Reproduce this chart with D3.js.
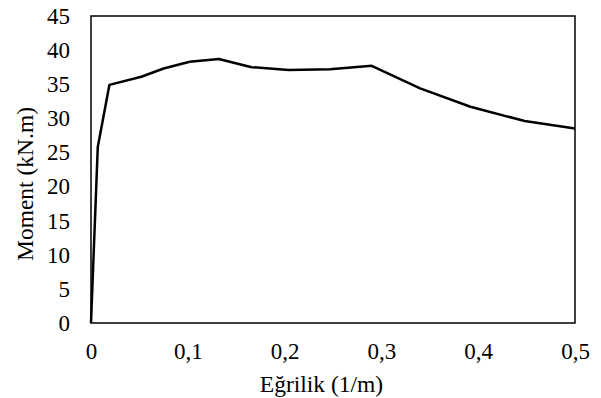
<!DOCTYPE html>
<html>
<head>
<meta charset="utf-8">
<script src="https://cdn.jsdelivr.net/npm/d3@7"></script>
<style>
  body { margin: 0; background: #fff; }
  text { font-family: "Liberation Serif", "Times New Roman", serif; fill: #000; }
</style>
</head>
<body>
<div id="chart"></div>
<script>
// curvature (1/m) and moment (kN.m)
var curvature = [0, 0.007, 0.019, 0.052, 0.075, 0.102, 0.132, 0.166, 0.204, 0.247, 0.29, 0.34, 0.392, 0.448, 0.5];
var moment = [0, 25.8, 34.9, 36.1, 37.3, 38.3, 38.7, 37.5, 37.1, 37.2, 37.7, 34.4, 31.7, 29.6, 28.5];
var xTicks = [0, 0.1, 0.2, 0.3, 0.4, 0.5];
var yTicks = [0, 5, 10, 15, 20, 25, 30, 35, 40, 45];

var w = 601, h = 398;
var mLeft = 91, mRight = 575, mTop = 16, mBottom = 323;

var svg = d3.select('#chart').append('svg')
  .attr('width', w)
  .attr('height', h);

var x = d3.scaleLinear().domain([0, 0.5]).range([mLeft, mRight]);
var y = d3.scaleLinear().domain([0, 45]).range([mBottom, mTop]);

var fmt = function(d) { return d === 0 ? '0' : d3.format('.1f')(d).replace('.', ','); };

// frame
svg.append('rect')
  .attr('x', mLeft).attr('y', mTop)
  .attr('width', mRight - mLeft).attr('height', mBottom - mTop)
  .attr('fill', 'none').attr('stroke', '#000').attr('stroke-width', 1.5);

// y axis labels
var yAxis = svg.append('g')
  .attr('transform', 'translate(' + mLeft + ',0)')
  .call(d3.axisLeft(y).tickValues(yTicks).tickSize(0).tickPadding(21));
yAxis.select('.domain').remove();
yAxis.selectAll('text')
  .style('font-size', '23px');

// x axis labels
var xAxis = svg.append('g')
  .attr('transform', 'translate(0,' + mBottom + ')')
  .call(d3.axisBottom(x).tickValues(xTicks).tickFormat(fmt).tickSize(0).tickPadding(20));
xAxis.select('.domain').remove();
xAxis.selectAll('text')
  .style('font-size', '23px');

// line
var line = d3.line()
  .x(function(d, i) { return x(curvature[i]); })
  .y(function(d) { return y(d); });

svg.append('path')
  .datum(moment)
  .attr('d', line)
  .attr('fill', 'none')
  .attr('stroke', '#000')
  .attr('stroke-width', 2.5)
  .attr('stroke-linejoin', 'round');

// axis titles
svg.append('text')
  .attr('x', 321.5).attr('y', 392)
  .attr('text-anchor', 'middle')
  .style('font-size', '23.5px')
  .text('Eğrilik (1/m)');

svg.append('text')
  .attr('transform', 'translate(33,184) rotate(-90)')
  .attr('text-anchor', 'middle')
  .style('font-size', '23.5px')
  .text('Moment (kN.m)');
</script>
</body>
</html>
